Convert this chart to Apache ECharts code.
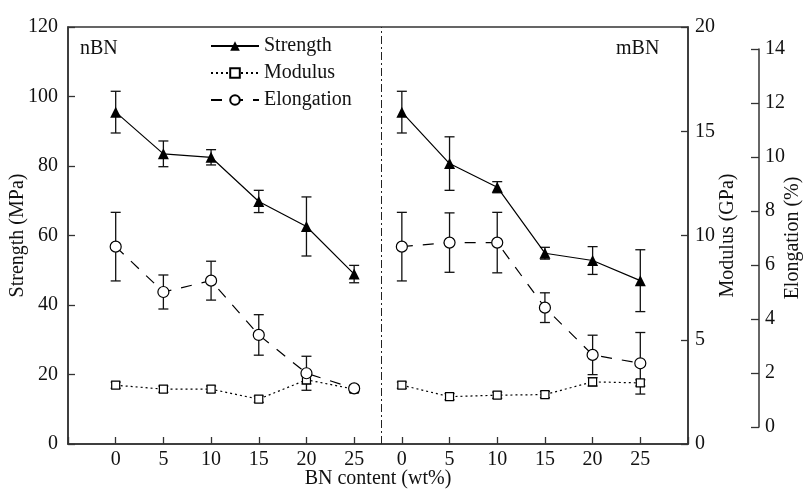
<!DOCTYPE html>
<html>
<head>
<meta charset="utf-8">
<script src="https://cdn.jsdelivr.net/npm/echarts@6/dist/echarts.min.js"></script>
<style>
html, body { margin: 0; padding: 0; background: #fff; }
#main { width: 809px; height: 490px; }
</style>
</head>
<body>
<div id="main"></div>
<script>
// BN content labels, repeated for the two filler groups
var contents = ['0', '5', '10', '15', '20', '25'];
var groups = ['nBN', 'mBN'];

// Strength (MPa)
var strengthN = [95.5, 83.5, 82.5, 69.8, 62.6, 48.9];
var strengthNErr = [6.0, 3.7, 2.2, 3.2, 8.5, 2.5];
var strengthM = [95.5, 80.7, 73.9, 54.9, 52.8, 47.0];
var strengthMErr = [6.0, 7.7, 1.6, 1.7, 4.0, 8.9];

// Modulus (GPa)
var modulusN = [2.82, 2.63, 2.63, 2.15, 3.08, 2.63];
var modulusNErr = [0.15, 0.15, 0.15, 0.15, 0.2, 0.15];
var modulusM = [2.82, 2.27, 2.34, 2.37, 2.98, 2.93];
var modulusMErr = [0.15, 0.15, 0.15, 0.15, 0.2, 0.15];

// Elongation (%)
var elongN = [6.68, 5.0, 5.42, 3.41, 1.99, 1.43];
var elongNErr = [1.27, 0.63, 0.72, 0.75, 0.63, 0.1];
var elongM = [6.68, 6.83, 6.83, 4.42, 2.67, 2.36];
var elongMErr = [1.27, 1.1, 1.12, 0.55, 0.73, 1.14];

var FONT = '"Liberation Serif", "Times New Roman", serif';
var INK = '#111';
var AXIS = '#333';

// nBN sits at x = 1..6, mBN at x = 7..12, the divider between them
var startN = 1, startM = 7;
var dividerX = 6.57;

function pts(vals, start) {
    return vals.map(function (v, i) { return [start + i, v]; });
}
function errs(vals, e, start) {
    return vals.map(function (v, i) { return [start + i, v - e[i], v + e[i]]; });
}

function xLabel(v) {
    if (v >= startN && v < startN + contents.length) return contents[v - startN];
    if (v >= startM && v < startM + contents.length) return contents[v - startM];
    return '';
}

function errorBar(params, api) {
    var x = api.value(0);
    var lo = api.coord([x, api.value(1)]);
    var hi = api.coord([x, api.value(2)]);
    var w = 5;
    var st = { stroke: INK, lineWidth: 1.3 };
    return {
        type: 'group',
        children: [
            { type: 'line', shape: { x1: lo[0], y1: lo[1], x2: hi[0], y2: hi[1] }, style: st },
            { type: 'line', shape: { x1: lo[0] - w, y1: lo[1], x2: lo[0] + w, y2: lo[1] }, style: st },
            { type: 'line', shape: { x1: hi[0] - w, y1: hi[1], x2: hi[0] + w, y2: hi[1] }, style: st }
        ]
    };
}

function errSeries(x, y, data) {
    return {
        type: 'custom',
        xAxisIndex: x,
        yAxisIndex: y,
        z: 1,
        silent: true,
        renderItem: errorBar,
        encode: { x: 0, y: [1, 2] },
        data: data
    };
}

var strengthStyle = {
    type: 'line',
    name: 'Strength',
    xAxisIndex: 0,
    yAxisIndex: 0,
    symbol: 'triangle',
    symbolSize: 11,
    itemStyle: { color: '#000' },
    lineStyle: { color: '#000', width: 1.2, type: 'solid' }
};
var modulusStyle = {
    type: 'line',
    name: 'Modulus',
    xAxisIndex: 0,
    yAxisIndex: 1,
    symbol: 'rect',
    symbolSize: 8,
    itemStyle: { color: '#fff', borderColor: '#000', borderWidth: 1.2 },
    lineStyle: { color: '#000', width: 1.2, type: [2, 3] }
};
var elongStyle = {
    type: 'line',
    name: 'Elongation',
    xAxisIndex: 1,
    yAxisIndex: 2,
    symbol: 'circle',
    symbolSize: 11,
    itemStyle: { color: '#fff', borderColor: '#000', borderWidth: 1.2 },
    lineStyle: { color: '#000', width: 1.2, type: [11, 10] }
};

var chart = echarts.init(document.getElementById('main'));

var axisCommon = {
    axisLine: { show: true, onZero: false, lineStyle: { color: AXIS, width: 1.5 } },
    axisTick: { show: true, inside: true, length: 7, lineStyle: { color: AXIS, width: 1.3 } },
    splitLine: { show: false },
    nameMoveOverlap: false,
    nameTextStyle: { fontFamily: FONT, fontSize: 20, color: INK }
};

var option = {
    animation: false,
    backgroundColor: '#fff',
    textStyle: { fontFamily: FONT },
    grid: [
        { left: 68, right: 121, top: 27, bottom: 46, outerBoundsMode: 'none', containLabel: false,
          show: true, borderColor: AXIS, borderWidth: 1.5 },
        { left: 68, right: 121, top: 49, bottom: 63, outerBoundsMode: 'none', containLabel: false }
    ],
    legend: {
        data: ['Strength', 'Modulus', 'Elongation'],
        orient: 'vertical',
        left: 205,
        top: 31,
        itemWidth: 48,
        itemHeight: 12,
        itemGap: 7,
        textStyle: { fontFamily: FONT, fontSize: 20, color: INK }
    },
    graphic: [
        { type: 'text', left: 80, top: 39, style: { text: groups[0], font: '20px ' + FONT, fill: INK } },
        { type: 'text', left: 616, top: 39, style: { text: groups[1], font: '20px ' + FONT, fill: INK } }
    ],
    xAxis: [
        Object.assign({}, axisCommon, {
            gridIndex: 0,
            type: 'value',
            min: 0,
            max: 13,
            interval: 1,
            name: 'BN content (wt%)',
            nameLocation: 'middle',
            nameGap: 25,
            axisLabel: {
                margin: 6,
                fontFamily: FONT,
                fontSize: 20,
                color: INK,
                showMinLabel: true,
                showMaxLabel: true,
                formatter: xLabel
            }
        }),
        { gridIndex: 1, type: 'value', min: 0, max: 13, show: false }
    ],
    yAxis: [
        Object.assign({}, axisCommon, {
            gridIndex: 0,
            type: 'value',
            position: 'left',
            min: 0,
            max: 120,
            interval: 20,
            name: 'Strength (MPa)',
            nameLocation: 'middle',
            nameRotate: 90,
            nameGap: 40,
            axisLabel: { margin: 10, fontFamily: FONT, fontSize: 20, color: INK }
        }),
        Object.assign({}, axisCommon, {
            gridIndex: 0,
            type: 'value',
            position: 'right',
            min: 0,
            max: 20,
            interval: 5,
            name: 'Modulus (GPa)',
            nameLocation: 'middle',
            nameRotate: 90,
            nameGap: 30,
            axisLabel: { margin: 7, fontFamily: FONT, fontSize: 20, color: INK }
        }),
        Object.assign({}, axisCommon, {
            gridIndex: 1,
            type: 'value',
            position: 'right',
            offset: 71,
            min: 0,
            max: 14,
            interval: 2,
            name: 'Elongation (%)',
            nameLocation: 'middle',
            nameRotate: 90,
            nameGap: 24,
            axisTick: { show: true, inside: true, length: 8, lineStyle: { color: AXIS, width: 1.3 } },
            axisLabel: { margin: 6, fontFamily: FONT, fontSize: 20, color: INK }
        })
    ],
    series: [
        errSeries(0, 0, errs(strengthN, strengthNErr, startN).concat(errs(strengthM, strengthMErr, startM))),
        errSeries(0, 1, errs(modulusN, modulusNErr, startN).concat(errs(modulusM, modulusMErr, startM))),
        errSeries(1, 2, errs(elongN, elongNErr, startN).concat(errs(elongM, elongMErr, startM))),
        Object.assign({}, strengthStyle, {
            data: pts(strengthN, startN),
            markLine: {
                silent: true,
                symbol: 'none',
                label: { show: false },
                lineStyle: { color: '#222', width: 1, type: [8, 3, 2, 3] },
                data: [{ xAxis: dividerX }]
            }
        }),
        Object.assign({}, strengthStyle, { data: pts(strengthM, startM) }),
        Object.assign({}, modulusStyle, { data: pts(modulusN, startN) }),
        Object.assign({}, modulusStyle, { data: pts(modulusM, startM) }),
        Object.assign({}, elongStyle, { data: pts(elongN, startN) }),
        Object.assign({}, elongStyle, { data: pts(elongM, startM) })
    ]
};

chart.setOption(option);
</script>
</body>
</html>
